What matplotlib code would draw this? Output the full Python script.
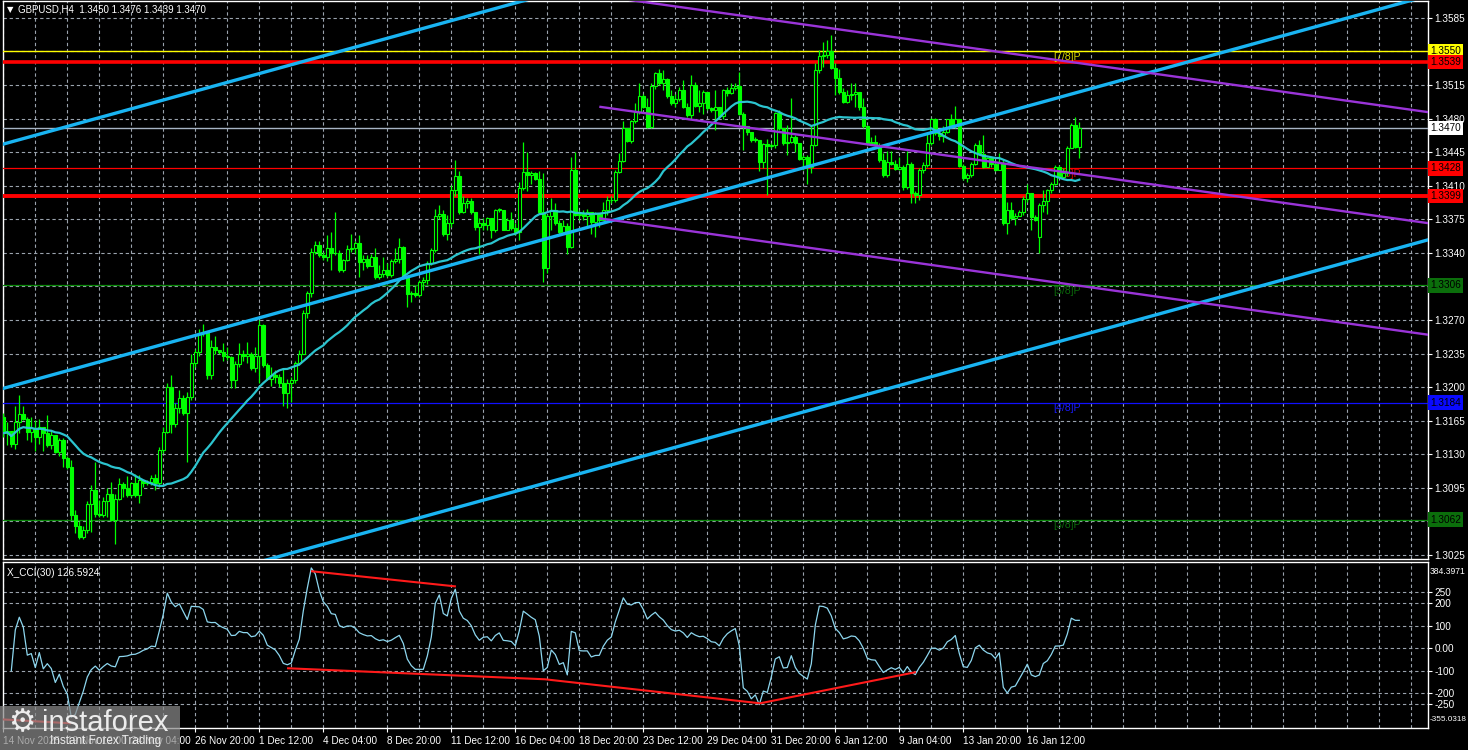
import numpy as np
import pandas as pd
import matplotlib
matplotlib.use("Agg")
import matplotlib.pyplot as plt
from matplotlib.patches import Rectangle
import matplotlib.transforms as mtransforms

plt.rcParams["font.family"] = ["Liberation Sans", "DejaVu Sans"]

# ---------------- data (prices in pips, 1 pip = 0.0001) ----------------
symbol_header = "GBPUSD,H4  1.3450 1.3476 1.3439 1.3470"

open_pips = [
    13169, 13152, 13154, 13141, 13164, 13172, 13167, 13153, 13157, 13148,
    13159, 13152, 13140, 13150, 13132, 13145, 13126, 13117, 13067, 13055,
    13044, 13051, 13078, 13093, 13068, 13067, 13081, 13089, 13062, 13083,
    13099, 13095, 13088, 13100, 13088, 13103, 13100, 13101, 13105, 13100,
    13134, 13153, 13200, 13162, 13178, 13189, 13173, 13190, 13225, 13237,
    13256, 13258, 13213, 13242, 13239, 13237, 13232, 13231, 13207, 13224,
    13235, 13232, 13235, 13220, 13232, 13265, 13223, 13209, 13213, 13211,
    13204, 13194, 13204, 13207, 13225, 13235, 13277, 13298, 13341, 13348,
    13338, 13336, 13345, 13340, 13340, 13322, 13333, 13344, 13345, 13350,
    13330, 13334, 13326, 13336, 13315, 13318, 13322, 13317, 13331, 13334,
    13346, 13315, 13297, 13298, 13296, 13310, 13312, 13329, 13343, 13378,
    13380, 13360, 13371, 13406, 13420, 13383, 13392, 13394, 13383, 13367,
    13371, 13369, 13376, 13364, 13385, 13385, 13364, 13374, 13366, 13362,
    13408, 13424, 13421, 13423, 13417, 13383, 13324, 13378, 13385, 13371,
    13362, 13368, 13346, 13426, 13379, 13380, 13378, 13383, 13372, 13380,
    13374, 13385, 13395, 13395, 13424, 13436, 13470, 13457, 13477, 13487,
    13503, 13492, 13471, 13514, 13527, 13517, 13521, 13503, 13496, 13500,
    13510, 13492, 13484, 13515, 13493, 13496, 13508, 13491, 13489, 13492,
    13483, 13510, 13507, 13512, 13514, 13485, 13472, 13466, 13458, 13458,
    13435, 13453, 13451, 13452, 13486, 13470, 13454, 13456, 13461, 13455,
    13438, 13440, 13430, 13452, 13531, 13545, 13546, 13550, 13533, 13522,
    13508, 13497, 13505, 13506, 13508, 13492, 13472, 13454, 13456, 13452,
    13437, 13421, 13435, 13433, 13427, 13429, 13409, 13433, 13402, 13400,
    13426, 13432, 13454, 13479, 13465, 13462, 13466, 13479, 13472, 13479,
    13431, 13418, 13421, 13433, 13452, 13443, 13430, 13439, 13433, 13426,
    13434, 13371, 13385, 13376, 13378, 13383, 13396, 13402, 13377, 13357,
    13390, 13394, 13406, 13412, 13430, 13419, 13423, 13449, 13473, 13450,
]
high_pips = [
    13173, 13164, 13154, 13180, 13192, 13180, 13169, 13169, 13166, 13167,
    13159, 13171, 13154, 13145, 13147, 13147, 13128, 13124, 13072, 13060,
    13055, 13081, 13098, 13122, 13082, 13086, 13095, 13101, 13089, 13105,
    13101, 13107, 13101, 13110, 13108, 13103, 13103, 13108, 13110, 13138,
    13159, 13204, 13213, 13183, 13197, 13192, 13195, 13235, 13240, 13261,
    13266, 13259, 13249, 13253, 13239, 13246, 13242, 13233, 13227, 13246,
    13239, 13247, 13237, 13242, 13270, 13266, 13225, 13221, 13218, 13214,
    13220, 13209, 13211, 13227, 13239, 13280, 13300, 13345, 13352, 13352,
    13341, 13359, 13362, 13383, 13343, 13334, 13348, 13360, 13352, 13359,
    13338, 13338, 13339, 13345, 13327, 13336, 13329, 13334, 13345, 13355,
    13347, 13313, 13300, 13305, 13312, 13315, 13331, 13345, 13386, 13390,
    13385, 13379, 13411, 13437, 13425, 13399, 13397, 13397, 13383, 13376,
    13376, 13377, 13374, 13386, 13387, 13385, 13376, 13383, 13371, 13414,
    13456, 13445, 13425, 13424, 13425, 13423, 13381, 13397, 13392, 13374,
    13374, 13371, 13440, 13445, 13385, 13385, 13386, 13383, 13383, 13381,
    13393, 13399, 13399, 13426, 13444, 13477, 13470, 13478, 13496, 13517,
    13506, 13501, 13517, 13529, 13532, 13531, 13522, 13510, 13506, 13513,
    13520, 13496, 13525, 13518, 13510, 13510, 13508, 13492, 13510, 13492,
    13511, 13513, 13517, 13517, 13529, 13487, 13470, 13464, 13461, 13458,
    13454, 13459, 13454, 13487, 13489, 13466, 13473, 13501, 13463, 13451,
    13442, 13442, 13473, 13538, 13551, 13560, 13562, 13567, 13538, 13532,
    13512, 13510, 13517, 13517, 13505, 13501, 13473, 13461, 13463, 13454,
    13444, 13446, 13446, 13437, 13440, 13432, 13446, 13435, 13404, 13428,
    13435, 13466, 13481, 13481, 13466, 13472, 13480, 13485, 13493, 13473,
    13433, 13423, 13435, 13454, 13458, 13463, 13440, 13440, 13435, 13444,
    13437, 13393, 13393, 13382, 13385, 13399, 13412, 13402, 13379, 13392,
    13406, 13407, 13414, 13432, 13432, 13428, 13451, 13475, 13482, 13476,
]
low_pips = [
    13148, 13140, 13138, 13136, 13152, 13166, 13145, 13143, 13133, 13141,
    13133, 13138, 13136, 13131, 13128, 13117, 13115, 13062, 13048, 13042,
    13042, 13048, 13049, 13065, 13065, 13065, 13065, 13060, 13037, 13082,
    13086, 13086, 13086, 13086, 13079, 13096, 13098, 13098, 13093, 13096,
    13131, 13152, 13152, 13159, 13173, 13171, 13122, 13187, 13221, 13233,
    13253, 13209, 13209, 13235, 13235, 13227, 13228, 13199, 13199, 13221,
    13227, 13225, 13218, 13216, 13204, 13221, 13207, 13201, 13204, 13200,
    13180, 13178, 13185, 13204, 13223, 13235, 13272, 13294, 13339, 13336,
    13333, 13331, 13322, 13338, 13320, 13320, 13331, 13341, 13339, 13315,
    13322, 13324, 13331, 13313, 13313, 13315, 13315, 13315, 13329, 13329,
    13313, 13284, 13289, 13294, 13294, 13301, 13308, 13327, 13341, 13375,
    13358, 13353, 13367, 13399, 13381, 13382, 13387, 13381, 13364, 13339,
    13364, 13364, 13355, 13362, 13383, 13364, 13364, 13364, 13359, 13353,
    13405, 13404, 13412, 13416, 13381, 13310, 13319, 13364, 13369, 13360,
    13360, 13339, 13345, 13378, 13374, 13374, 13367, 13360, 13357, 13367,
    13374, 13379, 13392, 13393, 13423, 13435, 13456, 13454, 13475, 13485,
    13491, 13470, 13470, 13511, 13515, 13510, 13501, 13494, 13492, 13498,
    13491, 13482, 13480, 13492, 13487, 13485, 13489, 13487, 13468, 13480,
    13480, 13504, 13506, 13510, 13484, 13447, 13463, 13456, 13456, 13425,
    13428, 13400, 13449, 13449, 13468, 13452, 13442, 13454, 13445, 13437,
    13426, 13412, 13423, 13451, 13527, 13534, 13543, 13532, 13505, 13506,
    13496, 13496, 13499, 13492, 13489, 13470, 13452, 13452, 13451, 13435,
    13419, 13419, 13432, 13426, 13426, 13406, 13407, 13392, 13392, 13395,
    13423, 13430, 13452, 13463, 13458, 13456, 13465, 13470, 13470, 13430,
    13416, 13414, 13419, 13432, 13442, 13428, 13430, 13430, 13425, 13428,
    13369, 13360, 13374, 13369, 13378, 13379, 13393, 13364, 13373, 13340,
    13383, 13381, 13402, 13411, 13418, 13418, 13420, 13449, 13449, 13439,
]
close_pips = [
    13152, 13154, 13141, 13164, 13172, 13167, 13153, 13157, 13148, 13159,
    13152, 13140, 13150, 13132, 13145, 13126, 13117, 13067, 13055, 13044,
    13051, 13078, 13093, 13068, 13067, 13081, 13089, 13062, 13083, 13099,
    13095, 13088, 13100, 13088, 13103, 13100, 13101, 13105, 13100, 13134,
    13153, 13200, 13162, 13178, 13189, 13173, 13190, 13225, 13237, 13256,
    13258, 13213, 13242, 13239, 13237, 13232, 13231, 13207, 13224, 13235,
    13232, 13235, 13220, 13232, 13265, 13223, 13209, 13213, 13211, 13204,
    13194, 13204, 13207, 13225, 13235, 13277, 13298, 13341, 13348, 13338,
    13336, 13345, 13340, 13340, 13322, 13333, 13344, 13345, 13350, 13330,
    13334, 13326, 13336, 13315, 13318, 13322, 13317, 13331, 13334, 13346,
    13315, 13297, 13298, 13296, 13310, 13312, 13329, 13343, 13378, 13380,
    13360, 13371, 13406, 13420, 13383, 13392, 13394, 13383, 13367, 13371,
    13369, 13376, 13364, 13385, 13385, 13364, 13374, 13366, 13362, 13408,
    13424, 13421, 13423, 13417, 13383, 13324, 13378, 13385, 13371, 13362,
    13368, 13346, 13426, 13379, 13380, 13378, 13383, 13372, 13380, 13374,
    13385, 13395, 13395, 13424, 13436, 13470, 13457, 13477, 13487, 13503,
    13492, 13471, 13514, 13527, 13517, 13521, 13503, 13496, 13500, 13510,
    13492, 13484, 13515, 13493, 13496, 13508, 13491, 13489, 13492, 13483,
    13510, 13507, 13512, 13514, 13485, 13472, 13466, 13458, 13458, 13435,
    13453, 13451, 13452, 13486, 13470, 13454, 13456, 13461, 13455, 13438,
    13440, 13430, 13452, 13531, 13545, 13546, 13550, 13533, 13522, 13508,
    13497, 13505, 13506, 13508, 13492, 13472, 13454, 13456, 13452, 13437,
    13421, 13435, 13433, 13427, 13429, 13409, 13433, 13402, 13400, 13426,
    13432, 13454, 13479, 13465, 13462, 13466, 13479, 13472, 13479, 13431,
    13418, 13421, 13433, 13452, 13443, 13430, 13439, 13433, 13426, 13434,
    13371, 13385, 13376, 13378, 13383, 13396, 13402, 13377, 13374, 13390,
    13394, 13406, 13412, 13430, 13419, 13423, 13449, 13473, 13450, 13470,
]

# time axis labels (bar index -> label)
date_label_bars = [0, 16, 32, 48, 64, 80, 96, 112, 128, 144, 160, 176, 192, 208, 224, 240, 256]
date_labels = ["14 Nov 2025", "19 Nov 12:00", "24 Nov 04:00", "26 Nov 20:00", "1 Dec 12:00",
               "4 Dec 04:00", "8 Dec 20:00", "11 Dec 12:00", "16 Dec 04:00", "18 Dec 20:00",
               "23 Dec 12:00", "29 Dec 04:00", "31 Dec 20:00", "6 Jan 12:00", "9 Jan 04:00",
               "13 Jan 20:00", "16 Jan 12:00"]

# price scale
price_ticks = [1.3025, 1.3060, 1.3095, 1.3130, 1.3165, 1.3200, 1.3235, 1.3270, 1.3305,
               1.3340, 1.3375, 1.3410, 1.3445, 1.3480, 1.3515, 1.3550, 1.3585]
price_tick_labels = ["1.3025", "", "1.3095", "1.3130", "1.3165", "1.3200", "1.3235", "1.3270", "",
                     "1.3340", "1.3375", "1.3410", "1.3445", "1.3480", "1.3515", "", "1.3585"]

# horizontal levels
level_prices = [1.3550, 1.3539, 1.3470, 1.3428, 1.3399, 1.3306, 1.3184, 1.3062]
level_colors = ["#ffff00", "#ff0000", "#a8b4c4", "#ff0000", "#ff0000", "#0a8a0a", "#1010ff", "#0a8a0a"]
level_widths = [1.0, 2.6, 1.0, 0.9, 2.8, 0.9, 0.9, 0.9]
level_labels = ["1.3550", "1.3539", "1.3470", "1.3428", "1.3399", "1.3306", "1.3184", "1.3062"]
level_label_bg = ["#ffff00", "#ff0000", "#ffffff", "#ff0000", "#ff0000", "#0b6e0b", "#0a0aff", "#0b6e0b"]

# Murray math labels
murray_prices = [1.3550, 1.3428, 1.3306, 1.3184, 1.3062]
murray_texts = ["[7/8]P", "[6/8]P", "[5/8]P", "[4/8]P", "[3/8]P"]
murray_colors = ["#d8d800", "#e00000", "#0a6a0a", "#1a1aff", "#0a6a0a"]
murray_bar = 262.5

# trend channels: values at the two bar positions
cyan_channel_bars = [-1.0, 357.0]
cyan_upper = [1.34522, 1.38635]
cyan_middle = [1.31976, 1.36089]
cyan_lower = [1.29432, 1.33545]
purple_bars = [149.0, 357.0]
purple_upper = [1.36080, 1.34862]
purple_middle = [1.34923, 1.33705]
purple_lower = [1.33760, 1.32542]

# CCI panel
cci_period = 30
ma_period = 30
cci_value_text = "X_CCI(30) 126.5924"
cci_max_label, cci_min_label = 384.3971, -355.0318
cci_ticks = [250, 200, 100, 0, -100, -200, -250]
cci_tick_labels = ["250", "200", "100", "0.00", "-100", "-200", "-250"]
cci_trend_bars = [[77.2, 112.9], [71.2, 135.4, 189.2, 227.9], [-1.0, 16.7]]
cci_trend_vals = [[343, 276], [-89, -138, -245, -107], [-316, -334]]

# ---------------- derived series ----------------
O = np.array(open_pips) / 10000.0
Hh = np.array(high_pips) / 10000.0
Ll = np.array(low_pips) / 10000.0
C = np.array(close_pips) / 10000.0
Hh = np.maximum(Hh, np.maximum(O, C))
Ll = np.minimum(Ll, np.minimum(O, C))
n = len(C)
idx = np.arange(n)

ma = pd.Series(C).rolling(ma_period, min_periods=1).mean().values
tp = pd.Series((Hh + Ll + C) / 3.0)
sma_tp = tp.rolling(cci_period, min_periods=3).mean()
mad = tp.rolling(cci_period, min_periods=3).apply(lambda a: np.mean(np.abs(a - a.mean())), raw=True)
cci = ((tp - sma_tp) / (0.015 * mad)).values

# ---------------- figure ----------------
W, Hpx = 1468, 750
fig = plt.figure(figsize=(W / 100, Hpx / 100), dpi=100, facecolor="black")


def rect(x0, y0, x1, y1):
    return [x0 / W, 1 - y1 / Hpx, (x1 - x0) / W, (y1 - y0) / Hpx]


ax = fig.add_axes(rect(2.5, 1, 1427.7, 559), facecolor="black")
axc = fig.add_axes(rect(2.5, 562, 1427.7, 728), facecolor="black", sharex=ax)

XMIN, XMAX = -0.2, 356.1
YMIN, YMAX = 1.30209, 1.36025
FS = 7.2
grid_kw = dict(color="#9aa3ad", lw=0.8, ls=(0, (3, 2.5)), zorder=1)
tick_font = dict(fontsize=FS, color="white")

for a in (ax, axc):
    for s in a.spines.values():
        s.set_color("white")
        s.set_linewidth(1.0)
    for b in range(0, 357, 8):
        a.axvline(b, **grid_kw)

# main grid
for p in price_ticks:
    ax.axhline(p, **grid_kw)

# horizontal levels
for p, c, w in zip(level_prices, level_colors, level_widths):
    ax.axhline(p, color=c, lw=w, zorder=3)

# murray labels (behind candles)
for p, t, c in zip(murray_prices, murray_texts, murray_colors):
    ax.text(murray_bar, p - 0.00005, t, color=c, fontsize=FS + 0.4, ha="left", va="top", zorder=3.5)

# candles
for i in idx:
    o, h, l, c = O[i], Hh[i], Ll[i], C[i]
    ax.vlines(i, l, h, color="#00ff00", lw=0.9, zorder=4)
    if c >= o:
        ax.add_patch(Rectangle((i - 0.33, o), 0.66, max(c - o, 0.00002), facecolor="black",
                               edgecolor="#00ff00", lw=0.8, zorder=5))
    else:
        ax.add_patch(Rectangle((i - 0.33, c), 0.66, o - c, facecolor="#00ff00",
                               edgecolor="#00ff00", lw=0.8, zorder=5))

# moving average
ax.plot(idx, ma, color="#2cc4cf", lw=1.6, zorder=6)

# channels
for vals in (cyan_upper, cyan_middle, cyan_lower):
    ax.plot(cyan_channel_bars, vals, color="#19b4f2", lw=2.4, zorder=6, solid_capstyle="butt")
for vals in (purple_upper, purple_middle, purple_lower):
    ax.plot(purple_bars, vals, color="#9a34d8", lw=1.7, zorder=6, solid_capstyle="butt")

ax.set_xlim(XMIN, XMAX)
ax.set_ylim(YMIN, YMAX)
ax.yaxis.tick_right()
ax.set_yticks(price_ticks)
ax.set_yticklabels(price_tick_labels, **tick_font)
ax.tick_params(axis="y", colors="white", length=3, width=0.8, pad=2)
ax.tick_params(axis="x", bottom=False, labelbottom=False)

# colored price labels on the right
trans = mtransforms.blended_transform_factory(ax.transAxes, ax.transData)
for p, t, bg in zip(level_prices, level_labels, level_label_bg):
    ax.text(1.0018, p, t, transform=trans, ha="left", va="center", fontsize=FS, color="black",
            bbox=dict(boxstyle="square,pad=0.22", fc=bg, ec="none"), clip_on=False, zorder=10)

# CCI panel
for v in cci_ticks:
    axc.axhline(v, **grid_kw)
axc.plot(idx, cci, color="#8dd6ee", lw=0.9, zorder=4)
for bx, vy in zip(cci_trend_bars, cci_trend_vals):
    axc.plot(bx, vy, color="#ff1a1a", lw=1.5, zorder=5)
axc.set_ylim(cci_min_label, cci_max_label)
axc.yaxis.tick_right()
axc.set_yticks(cci_ticks)
axc.set_yticklabels(cci_tick_labels, **tick_font)
axc.tick_params(axis="y", colors="white", length=3, width=0.8, pad=2)
axc.text(1.0012, 0.97, f"{cci_max_label:.4f}", transform=axc.transAxes, ha="left", va="top",
         clip_on=False, fontsize=6.2, color="white")
axc.text(1.0012, 0.03, f"{cci_min_label:.4f}", transform=axc.transAxes, ha="left", va="bottom",
         clip_on=False, fontsize=5.9, color="white")
axc.text(0.003, 0.965, cci_value_text, transform=axc.transAxes, ha="left", va="top", **tick_font)

axc.set_xticks(date_label_bars)
axc.set_xticklabels(date_labels, **tick_font)
for lab in axc.get_xticklabels():
    lab.set_ha("left")
axc.tick_params(axis="x", colors="white", length=3, width=0.8, pad=3)
axc.set_xlim(XMIN, XMAX)

# header
fig.text(7 / W, 1 - 10 / Hpx, "\u25BC", color="white", fontsize=6, ha="left", va="center",
         family="DejaVu Sans")
fig.text(18 / W, 1 - 10 / Hpx, symbol_header, color="white", fontsize=7.0, ha="left", va="center")

# watermark
fig.patches.append(Rectangle((0, 0), 180 / W, 44 / Hpx, transform=fig.transFigure,
                             facecolor="#8a8a8a", alpha=0.72, edgecolor="none", zorder=20))
fig.text(22 / W, 1 - 723 / Hpx, "\u2699", color="#ececec", fontsize=22, ha="center", va="center",
         zorder=21, family="DejaVu Sans")
fig.text(42 / W, 1 - 723 / Hpx, "instaforex", color="#ececec", fontsize=21, ha="left", va="center", zorder=21)
fig.text(50 / W, 1 - 741 / Hpx, "Instant Forex Trading", color="#ececec", fontsize=8.5, ha="left",
         va="center", zorder=21)

fig.savefig("out.png", dpi=100, facecolor="black")
